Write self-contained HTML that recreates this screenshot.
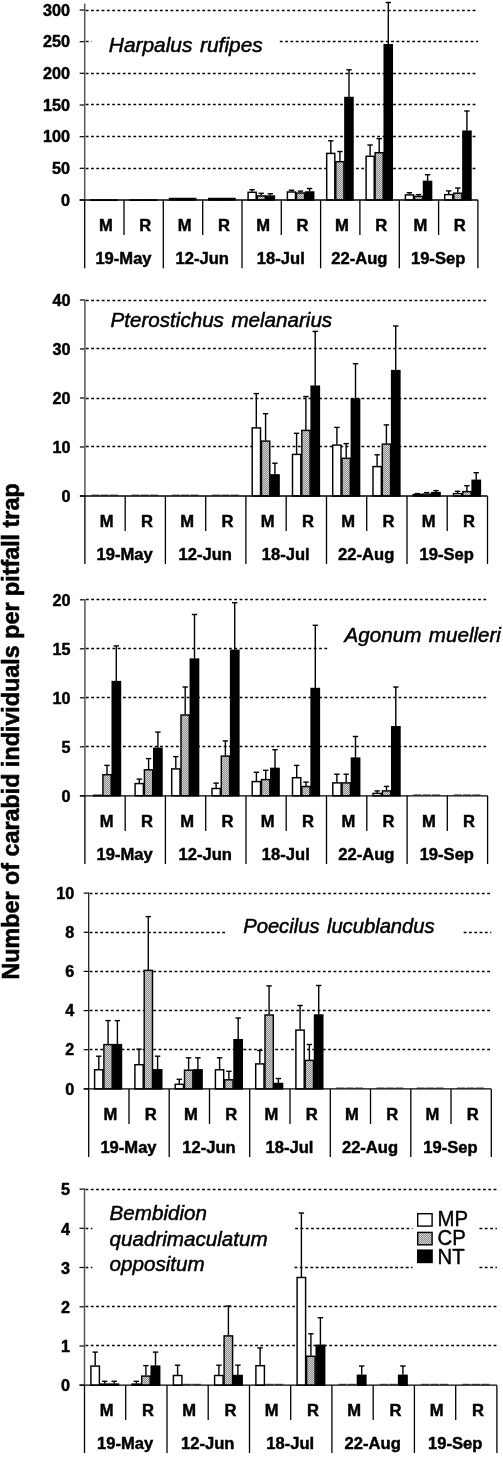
<!DOCTYPE html>
<html lang="en"><head><meta charset="utf-8"><title>Carabid individuals per pitfall trap</title>
<style>html,body{margin:0;padding:0;background:#fff}svg{display:block}svg text{font-family:"Liberation Sans",sans-serif}</style></head>
<body>
<svg width="503" height="1474" viewBox="0 0 503 1474">
<defs>
<pattern id="cp" width="2" height="2" patternUnits="userSpaceOnUse">
<rect width="2" height="2" fill="#8e8e8e"/>
<rect width="1" height="1" fill="#d2d2d2"/>
<rect x="1" y="1" width="1" height="1" fill="#d2d2d2"/>
</pattern>
</defs>
<rect width="503" height="1474" fill="#fff"/>
<text transform="translate(19.1,979.5) rotate(-90)" font-weight="bold" font-size="23.32" stroke="#000" stroke-width="0.55" fill="#000">Number of carabid individuals per pitfall trap</text>
<g>
<line x1="79.7" y1="200.0" x2="84.7" y2="200.0" stroke="#000" stroke-width="1.2"/>
<text x="69.9" y="205.7" text-anchor="end" stroke="#000" stroke-width="0.45" font-weight="bold" font-size="16.2" fill="#000">0</text>
<line x1="85.7" y1="168.5" x2="477.9" y2="168.5" stroke="#000" stroke-width="1.3" stroke-dasharray="2.8 2.5"/>
<line x1="79.7" y1="168.3" x2="84.7" y2="168.3" stroke="#000" stroke-width="1.2"/>
<text x="69.9" y="174.0" text-anchor="end" stroke="#000" stroke-width="0.45" font-weight="bold" font-size="16.2" fill="#000">50</text>
<line x1="85.7" y1="136.5" x2="477.9" y2="136.5" stroke="#000" stroke-width="1.3" stroke-dasharray="2.8 2.5"/>
<line x1="79.7" y1="136.7" x2="84.7" y2="136.7" stroke="#000" stroke-width="1.2"/>
<text x="69.9" y="142.4" text-anchor="end" stroke="#000" stroke-width="0.45" font-weight="bold" font-size="16.2" fill="#000">100</text>
<line x1="85.7" y1="104.5" x2="477.9" y2="104.5" stroke="#000" stroke-width="1.3" stroke-dasharray="2.8 2.5"/>
<line x1="79.7" y1="105.0" x2="84.7" y2="105.0" stroke="#000" stroke-width="1.2"/>
<text x="69.9" y="110.7" text-anchor="end" stroke="#000" stroke-width="0.45" font-weight="bold" font-size="16.2" fill="#000">150</text>
<line x1="85.7" y1="73.5" x2="477.9" y2="73.5" stroke="#000" stroke-width="1.3" stroke-dasharray="2.8 2.5"/>
<line x1="79.7" y1="73.3" x2="84.7" y2="73.3" stroke="#000" stroke-width="1.2"/>
<text x="69.9" y="79.0" text-anchor="end" stroke="#000" stroke-width="0.45" font-weight="bold" font-size="16.2" fill="#000">200</text>
<line x1="85.8" y1="41.5" x2="91.5" y2="41.5" stroke="#000" stroke-width="1.3" stroke-dasharray="2.8 2.5"/>
<line x1="279.8" y1="41.5" x2="477.9" y2="41.5" stroke="#000" stroke-width="1.3" stroke-dasharray="2.8 2.5"/>
<line x1="79.7" y1="41.7" x2="84.7" y2="41.7" stroke="#000" stroke-width="1.2"/>
<text x="69.9" y="47.4" text-anchor="end" stroke="#000" stroke-width="0.45" font-weight="bold" font-size="16.2" fill="#000">250</text>
<line x1="85.7" y1="10.5" x2="477.9" y2="10.5" stroke="#000" stroke-width="1.3" stroke-dasharray="2.8 2.5"/>
<line x1="79.7" y1="10.0" x2="84.7" y2="10.0" stroke="#000" stroke-width="1.2"/>
<text x="69.9" y="15.7" text-anchor="end" stroke="#000" stroke-width="0.45" font-weight="bold" font-size="16.2" fill="#000">300</text>
<rect x="90.8" y="200.0" width="8.1" height="0.3" fill="#fff" stroke="#000" stroke-width="1.45"/>
<rect x="99.9" y="200.0" width="8.1" height="0.3" fill="url(#cp)" stroke="#000" stroke-width="1.45"/>
<rect x="109.0" y="200.0" width="8.1" height="0.3" fill="#000" stroke="#000" stroke-width="1.45"/>
<rect x="130.1" y="200.0" width="8.1" height="0.3" fill="#fff" stroke="#000" stroke-width="1.45"/>
<rect x="139.2" y="200.0" width="8.1" height="0.3" fill="url(#cp)" stroke="#000" stroke-width="1.45"/>
<rect x="148.3" y="200.0" width="8.1" height="0.3" fill="#000" stroke="#000" stroke-width="1.45"/>
<rect x="169.5" y="198.5" width="8.1" height="1.5" fill="#fff" stroke="#000" stroke-width="1.45"/>
<rect x="178.5" y="198.5" width="8.1" height="1.5" fill="url(#cp)" stroke="#000" stroke-width="1.45"/>
<rect x="187.6" y="198.5" width="8.1" height="1.5" fill="#000" stroke="#000" stroke-width="1.45"/>
<rect x="208.8" y="198.5" width="8.1" height="1.5" fill="#fff" stroke="#000" stroke-width="1.45"/>
<rect x="217.9" y="198.5" width="8.1" height="1.5" fill="url(#cp)" stroke="#000" stroke-width="1.45"/>
<rect x="226.9" y="198.5" width="8.1" height="1.5" fill="#000" stroke="#000" stroke-width="1.45"/>
<line x1="252.1" y1="191.8" x2="252.1" y2="189.7" stroke="#000" stroke-width="1.4"/>
<line x1="249.4" y1="189.7" x2="254.8" y2="189.7" stroke="#000" stroke-width="1.4"/>
<rect x="248.1" y="192.3" width="8.1" height="7.7" fill="#fff" stroke="#000" stroke-width="1.45"/>
<line x1="261.2" y1="195.4" x2="261.2" y2="193.3" stroke="#000" stroke-width="1.4"/>
<line x1="258.5" y1="193.3" x2="263.9" y2="193.3" stroke="#000" stroke-width="1.4"/>
<rect x="257.2" y="195.9" width="8.1" height="4.1" fill="url(#cp)" stroke="#000" stroke-width="1.45"/>
<line x1="270.3" y1="195.6" x2="270.3" y2="193.8" stroke="#000" stroke-width="1.4"/>
<line x1="267.6" y1="193.8" x2="273.0" y2="193.8" stroke="#000" stroke-width="1.4"/>
<rect x="266.3" y="196.1" width="8.1" height="3.9" fill="#000" stroke="#000" stroke-width="1.45"/>
<line x1="291.5" y1="191.5" x2="291.5" y2="190.2" stroke="#000" stroke-width="1.4"/>
<line x1="288.8" y1="190.2" x2="294.2" y2="190.2" stroke="#000" stroke-width="1.4"/>
<rect x="287.4" y="192.0" width="8.1" height="8.0" fill="#fff" stroke="#000" stroke-width="1.45"/>
<line x1="300.5" y1="192.5" x2="300.5" y2="191.1" stroke="#000" stroke-width="1.4"/>
<line x1="297.8" y1="191.1" x2="303.2" y2="191.1" stroke="#000" stroke-width="1.4"/>
<rect x="296.5" y="193.0" width="8.1" height="7.0" fill="url(#cp)" stroke="#000" stroke-width="1.45"/>
<line x1="309.6" y1="191.5" x2="309.6" y2="188.5" stroke="#000" stroke-width="1.4"/>
<line x1="306.9" y1="188.5" x2="312.3" y2="188.5" stroke="#000" stroke-width="1.4"/>
<rect x="305.6" y="192.0" width="8.1" height="8.0" fill="#000" stroke="#000" stroke-width="1.45"/>
<line x1="330.8" y1="152.9" x2="330.8" y2="140.8" stroke="#000" stroke-width="1.4"/>
<line x1="328.1" y1="140.8" x2="333.5" y2="140.8" stroke="#000" stroke-width="1.4"/>
<rect x="326.7" y="153.4" width="8.1" height="46.6" fill="#fff" stroke="#000" stroke-width="1.45"/>
<line x1="339.9" y1="161.2" x2="339.9" y2="151.5" stroke="#000" stroke-width="1.4"/>
<line x1="337.2" y1="151.5" x2="342.6" y2="151.5" stroke="#000" stroke-width="1.4"/>
<rect x="335.8" y="161.7" width="8.1" height="38.3" fill="url(#cp)" stroke="#000" stroke-width="1.45"/>
<line x1="349.0" y1="97.0" x2="349.0" y2="69.8" stroke="#000" stroke-width="1.4"/>
<line x1="346.3" y1="69.8" x2="351.7" y2="69.8" stroke="#000" stroke-width="1.4"/>
<rect x="344.9" y="97.5" width="8.1" height="102.5" fill="#000" stroke="#000" stroke-width="1.45"/>
<line x1="370.1" y1="155.8" x2="370.1" y2="145.0" stroke="#000" stroke-width="1.4"/>
<line x1="367.4" y1="145.0" x2="372.8" y2="145.0" stroke="#000" stroke-width="1.4"/>
<rect x="366.1" y="156.3" width="8.1" height="43.7" fill="#fff" stroke="#000" stroke-width="1.45"/>
<line x1="379.2" y1="152.2" x2="379.2" y2="138.6" stroke="#000" stroke-width="1.4"/>
<line x1="376.5" y1="138.6" x2="381.9" y2="138.6" stroke="#000" stroke-width="1.4"/>
<rect x="375.1" y="152.7" width="8.1" height="47.3" fill="url(#cp)" stroke="#000" stroke-width="1.45"/>
<line x1="388.3" y1="44.2" x2="388.3" y2="2.5" stroke="#000" stroke-width="1.4"/>
<line x1="385.6" y1="2.5" x2="391.0" y2="2.5" stroke="#000" stroke-width="1.4"/>
<rect x="384.2" y="44.7" width="8.1" height="155.3" fill="#000" stroke="#000" stroke-width="1.45"/>
<line x1="409.4" y1="194.4" x2="409.4" y2="192.7" stroke="#000" stroke-width="1.4"/>
<line x1="406.7" y1="192.7" x2="412.1" y2="192.7" stroke="#000" stroke-width="1.4"/>
<rect x="405.4" y="194.9" width="8.1" height="5.1" fill="#fff" stroke="#000" stroke-width="1.45"/>
<line x1="418.5" y1="195.9" x2="418.5" y2="194.6" stroke="#000" stroke-width="1.4"/>
<line x1="415.8" y1="194.6" x2="421.2" y2="194.6" stroke="#000" stroke-width="1.4"/>
<rect x="414.5" y="196.4" width="8.1" height="3.6" fill="url(#cp)" stroke="#000" stroke-width="1.45"/>
<line x1="427.6" y1="180.9" x2="427.6" y2="174.7" stroke="#000" stroke-width="1.4"/>
<line x1="424.9" y1="174.7" x2="430.3" y2="174.7" stroke="#000" stroke-width="1.4"/>
<rect x="423.5" y="181.4" width="8.1" height="18.6" fill="#000" stroke="#000" stroke-width="1.45"/>
<line x1="448.7" y1="194.1" x2="448.7" y2="190.9" stroke="#000" stroke-width="1.4"/>
<line x1="446.0" y1="190.9" x2="451.4" y2="190.9" stroke="#000" stroke-width="1.4"/>
<rect x="444.7" y="194.6" width="8.1" height="5.4" fill="#fff" stroke="#000" stroke-width="1.45"/>
<line x1="457.8" y1="192.7" x2="457.8" y2="188.0" stroke="#000" stroke-width="1.4"/>
<line x1="455.1" y1="188.0" x2="460.5" y2="188.0" stroke="#000" stroke-width="1.4"/>
<rect x="453.8" y="193.2" width="8.1" height="6.8" fill="url(#cp)" stroke="#000" stroke-width="1.45"/>
<line x1="466.9" y1="130.7" x2="466.9" y2="111.0" stroke="#000" stroke-width="1.4"/>
<line x1="464.2" y1="111.0" x2="469.6" y2="111.0" stroke="#000" stroke-width="1.4"/>
<rect x="462.9" y="131.2" width="8.1" height="68.8" fill="#000" stroke="#000" stroke-width="1.45"/>
<line x1="84.7" y1="3.6" x2="84.7" y2="200.0" stroke="#555" stroke-width="1.5"/>
<line x1="84.7" y1="200.0" x2="84.7" y2="268.3" stroke="#000" stroke-width="1.3"/>
<line x1="79.7" y1="200.0" x2="477.9" y2="200.0" stroke="#000" stroke-width="1.3"/>
<line x1="124.0" y1="200.0" x2="124.0" y2="235.0" stroke="#000" stroke-width="1.3"/>
<line x1="163.3" y1="200.0" x2="163.3" y2="268.3" stroke="#000" stroke-width="1.3"/>
<line x1="202.7" y1="200.0" x2="202.7" y2="235.0" stroke="#000" stroke-width="1.3"/>
<line x1="242.0" y1="200.0" x2="242.0" y2="268.3" stroke="#000" stroke-width="1.3"/>
<line x1="281.3" y1="200.0" x2="281.3" y2="235.0" stroke="#000" stroke-width="1.3"/>
<line x1="320.6" y1="200.0" x2="320.6" y2="268.3" stroke="#000" stroke-width="1.3"/>
<line x1="359.9" y1="200.0" x2="359.9" y2="235.0" stroke="#000" stroke-width="1.3"/>
<line x1="399.3" y1="200.0" x2="399.3" y2="268.3" stroke="#000" stroke-width="1.3"/>
<line x1="438.6" y1="200.0" x2="438.6" y2="235.0" stroke="#000" stroke-width="1.3"/>
<line x1="477.9" y1="200.0" x2="477.9" y2="268.3" stroke="#000" stroke-width="1.3"/>
<text transform="translate(106.0,230.5) scale(1.03,1)" text-anchor="middle" stroke="#000" stroke-width="0.45" font-weight="bold" font-size="16.1" fill="#000">M</text>
<text transform="translate(145.3,230.5) scale(1.03,1)" text-anchor="middle" stroke="#000" stroke-width="0.45" font-weight="bold" font-size="16.1" fill="#000">R</text>
<text transform="translate(184.6,230.5) scale(1.03,1)" text-anchor="middle" stroke="#000" stroke-width="0.45" font-weight="bold" font-size="16.1" fill="#000">M</text>
<text transform="translate(223.9,230.5) scale(1.03,1)" text-anchor="middle" stroke="#000" stroke-width="0.45" font-weight="bold" font-size="16.1" fill="#000">R</text>
<text transform="translate(263.2,230.5) scale(1.03,1)" text-anchor="middle" stroke="#000" stroke-width="0.45" font-weight="bold" font-size="16.1" fill="#000">M</text>
<text transform="translate(302.6,230.5) scale(1.03,1)" text-anchor="middle" stroke="#000" stroke-width="0.45" font-weight="bold" font-size="16.1" fill="#000">R</text>
<text transform="translate(341.9,230.5) scale(1.03,1)" text-anchor="middle" stroke="#000" stroke-width="0.45" font-weight="bold" font-size="16.1" fill="#000">M</text>
<text transform="translate(381.2,230.5) scale(1.03,1)" text-anchor="middle" stroke="#000" stroke-width="0.45" font-weight="bold" font-size="16.1" fill="#000">R</text>
<text transform="translate(420.5,230.5) scale(1.03,1)" text-anchor="middle" stroke="#000" stroke-width="0.45" font-weight="bold" font-size="16.1" fill="#000">M</text>
<text transform="translate(459.8,230.5) scale(1.03,1)" text-anchor="middle" stroke="#000" stroke-width="0.45" font-weight="bold" font-size="16.1" fill="#000">R</text>
<text transform="translate(123.5,263.5) scale(1.03,1)" text-anchor="middle" stroke="#000" stroke-width="0.45" font-weight="bold" font-size="16.1" fill="#000">19-May</text>
<text transform="translate(202.2,263.5) scale(1.03,1)" text-anchor="middle" stroke="#000" stroke-width="0.45" font-weight="bold" font-size="16.1" fill="#000">12-Jun</text>
<text transform="translate(280.8,263.5) scale(1.03,1)" text-anchor="middle" stroke="#000" stroke-width="0.45" font-weight="bold" font-size="16.1" fill="#000">18-Jul</text>
<text transform="translate(359.4,263.5) scale(1.03,1)" text-anchor="middle" stroke="#000" stroke-width="0.45" font-weight="bold" font-size="16.1" fill="#000">22-Aug</text>
<text transform="translate(438.1,263.5) scale(1.03,1)" text-anchor="middle" stroke="#000" stroke-width="0.45" font-weight="bold" font-size="16.1" fill="#000">19-Sep</text>
<text x="108.8" y="52" font-style="italic" font-size="20.9" word-spacing="1.8" stroke="#000" stroke-width="0.5" fill="#000">Harpalus rufipes</text>
</g>
<g>
<line x1="79.9" y1="496.0" x2="84.9" y2="496.0" stroke="#000" stroke-width="1.2"/>
<text x="70.5" y="501.7" text-anchor="end" stroke="#000" stroke-width="0.45" font-weight="bold" font-size="16.2" fill="#000">0</text>
<line x1="85.9" y1="446.5" x2="487.5" y2="446.5" stroke="#000" stroke-width="1.3" stroke-dasharray="2.8 2.5"/>
<line x1="79.9" y1="447.0" x2="84.9" y2="447.0" stroke="#000" stroke-width="1.2"/>
<text x="70.5" y="452.7" text-anchor="end" stroke="#000" stroke-width="0.45" font-weight="bold" font-size="16.2" fill="#000">10</text>
<line x1="85.9" y1="398.5" x2="487.5" y2="398.5" stroke="#000" stroke-width="1.3" stroke-dasharray="2.8 2.5"/>
<line x1="79.9" y1="398.0" x2="84.9" y2="398.0" stroke="#000" stroke-width="1.2"/>
<text x="70.5" y="403.7" text-anchor="end" stroke="#000" stroke-width="0.45" font-weight="bold" font-size="16.2" fill="#000">20</text>
<line x1="85.9" y1="348.5" x2="487.5" y2="348.5" stroke="#000" stroke-width="1.3" stroke-dasharray="2.8 2.5"/>
<line x1="79.9" y1="349.0" x2="84.9" y2="349.0" stroke="#000" stroke-width="1.2"/>
<text x="70.5" y="354.7" text-anchor="end" stroke="#000" stroke-width="0.45" font-weight="bold" font-size="16.2" fill="#000">30</text>
<line x1="85.9" y1="300.5" x2="487.5" y2="300.5" stroke="#000" stroke-width="1.3" stroke-dasharray="2.8 2.5"/>
<line x1="79.9" y1="300.0" x2="84.9" y2="300.0" stroke="#000" stroke-width="1.2"/>
<text x="70.5" y="305.7" text-anchor="end" stroke="#000" stroke-width="0.45" font-weight="bold" font-size="16.2" fill="#000">40</text>
<line x1="91.3" y1="495.1" x2="99.4" y2="495.1" stroke="#000" stroke-width="1" stroke-opacity="0.75"/>
<line x1="100.6" y1="495.1" x2="108.7" y2="495.1" stroke="#000" stroke-width="1" stroke-opacity="0.75"/>
<line x1="109.9" y1="495.1" x2="118.0" y2="495.1" stroke="#000" stroke-width="1" stroke-opacity="0.75"/>
<line x1="131.5" y1="495.1" x2="139.6" y2="495.1" stroke="#000" stroke-width="1" stroke-opacity="0.75"/>
<line x1="140.8" y1="495.1" x2="148.9" y2="495.1" stroke="#000" stroke-width="1" stroke-opacity="0.75"/>
<line x1="150.1" y1="495.1" x2="158.2" y2="495.1" stroke="#000" stroke-width="1" stroke-opacity="0.75"/>
<line x1="171.8" y1="495.1" x2="179.9" y2="495.1" stroke="#000" stroke-width="1" stroke-opacity="0.75"/>
<line x1="181.1" y1="495.1" x2="189.2" y2="495.1" stroke="#000" stroke-width="1" stroke-opacity="0.75"/>
<line x1="190.4" y1="495.1" x2="198.5" y2="495.1" stroke="#000" stroke-width="1" stroke-opacity="0.75"/>
<line x1="212.0" y1="495.1" x2="220.1" y2="495.1" stroke="#000" stroke-width="1" stroke-opacity="0.75"/>
<line x1="221.3" y1="495.1" x2="229.4" y2="495.1" stroke="#000" stroke-width="1" stroke-opacity="0.75"/>
<line x1="230.6" y1="495.1" x2="238.7" y2="495.1" stroke="#000" stroke-width="1" stroke-opacity="0.75"/>
<line x1="256.3" y1="427.4" x2="256.3" y2="393.6" stroke="#000" stroke-width="1.4"/>
<line x1="253.6" y1="393.6" x2="259.0" y2="393.6" stroke="#000" stroke-width="1.4"/>
<rect x="252.2" y="427.9" width="8.3" height="68.1" fill="#fff" stroke="#000" stroke-width="1.45"/>
<line x1="265.6" y1="440.6" x2="265.6" y2="413.7" stroke="#000" stroke-width="1.4"/>
<line x1="262.9" y1="413.7" x2="268.3" y2="413.7" stroke="#000" stroke-width="1.4"/>
<rect x="261.5" y="441.1" width="8.3" height="54.9" fill="url(#cp)" stroke="#000" stroke-width="1.45"/>
<line x1="274.9" y1="474.4" x2="274.9" y2="463.2" stroke="#000" stroke-width="1.4"/>
<line x1="272.2" y1="463.2" x2="277.6" y2="463.2" stroke="#000" stroke-width="1.4"/>
<rect x="270.8" y="474.9" width="8.3" height="21.1" fill="#000" stroke="#000" stroke-width="1.45"/>
<line x1="296.6" y1="453.9" x2="296.6" y2="433.3" stroke="#000" stroke-width="1.4"/>
<line x1="293.9" y1="433.3" x2="299.3" y2="433.3" stroke="#000" stroke-width="1.4"/>
<rect x="292.5" y="454.4" width="8.3" height="41.6" fill="#fff" stroke="#000" stroke-width="1.45"/>
<line x1="305.9" y1="429.9" x2="305.9" y2="396.5" stroke="#000" stroke-width="1.4"/>
<line x1="303.2" y1="396.5" x2="308.6" y2="396.5" stroke="#000" stroke-width="1.4"/>
<rect x="301.8" y="430.4" width="8.3" height="65.7" fill="url(#cp)" stroke="#000" stroke-width="1.45"/>
<line x1="315.2" y1="385.8" x2="315.2" y2="331.4" stroke="#000" stroke-width="1.4"/>
<line x1="312.5" y1="331.4" x2="317.9" y2="331.4" stroke="#000" stroke-width="1.4"/>
<rect x="311.1" y="386.2" width="8.3" height="109.8" fill="#000" stroke="#000" stroke-width="1.45"/>
<line x1="336.9" y1="444.6" x2="336.9" y2="427.4" stroke="#000" stroke-width="1.4"/>
<line x1="334.2" y1="427.4" x2="339.6" y2="427.4" stroke="#000" stroke-width="1.4"/>
<rect x="332.7" y="445.1" width="8.3" height="51.0" fill="#fff" stroke="#000" stroke-width="1.45"/>
<line x1="346.2" y1="457.8" x2="346.2" y2="443.6" stroke="#000" stroke-width="1.4"/>
<line x1="343.5" y1="443.6" x2="348.9" y2="443.6" stroke="#000" stroke-width="1.4"/>
<rect x="342.0" y="458.3" width="8.3" height="37.7" fill="url(#cp)" stroke="#000" stroke-width="1.45"/>
<line x1="355.5" y1="398.5" x2="355.5" y2="363.7" stroke="#000" stroke-width="1.4"/>
<line x1="352.8" y1="363.7" x2="358.2" y2="363.7" stroke="#000" stroke-width="1.4"/>
<rect x="351.3" y="399.0" width="8.3" height="97.0" fill="#000" stroke="#000" stroke-width="1.45"/>
<line x1="377.1" y1="466.1" x2="377.1" y2="454.8" stroke="#000" stroke-width="1.4"/>
<line x1="374.4" y1="454.8" x2="379.8" y2="454.8" stroke="#000" stroke-width="1.4"/>
<rect x="373.0" y="466.6" width="8.3" height="29.4" fill="#fff" stroke="#000" stroke-width="1.45"/>
<line x1="386.4" y1="443.6" x2="386.4" y2="424.9" stroke="#000" stroke-width="1.4"/>
<line x1="383.7" y1="424.9" x2="389.1" y2="424.9" stroke="#000" stroke-width="1.4"/>
<rect x="382.3" y="444.1" width="8.3" height="51.9" fill="url(#cp)" stroke="#000" stroke-width="1.45"/>
<line x1="395.7" y1="370.1" x2="395.7" y2="326.0" stroke="#000" stroke-width="1.4"/>
<line x1="393.0" y1="326.0" x2="398.4" y2="326.0" stroke="#000" stroke-width="1.4"/>
<rect x="391.6" y="370.6" width="8.3" height="125.4" fill="#000" stroke="#000" stroke-width="1.45"/>
<line x1="417.4" y1="494.0" x2="417.4" y2="493.6" stroke="#000" stroke-width="1.4"/>
<line x1="414.7" y1="493.6" x2="420.1" y2="493.6" stroke="#000" stroke-width="1.4"/>
<rect x="413.2" y="494.5" width="8.3" height="1.5" fill="#fff" stroke="#000" stroke-width="1.45"/>
<line x1="426.7" y1="493.6" x2="426.7" y2="492.6" stroke="#000" stroke-width="1.4"/>
<line x1="424.0" y1="492.6" x2="429.4" y2="492.6" stroke="#000" stroke-width="1.4"/>
<rect x="422.5" y="494.1" width="8.3" height="2.0" fill="url(#cp)" stroke="#000" stroke-width="1.45"/>
<line x1="436.0" y1="492.1" x2="436.0" y2="490.6" stroke="#000" stroke-width="1.4"/>
<line x1="433.3" y1="490.6" x2="438.7" y2="490.6" stroke="#000" stroke-width="1.4"/>
<rect x="431.8" y="492.6" width="8.3" height="3.4" fill="#000" stroke="#000" stroke-width="1.45"/>
<line x1="457.6" y1="493.1" x2="457.6" y2="491.3" stroke="#000" stroke-width="1.4"/>
<line x1="454.9" y1="491.3" x2="460.3" y2="491.3" stroke="#000" stroke-width="1.4"/>
<rect x="453.5" y="493.6" width="8.3" height="2.4" fill="#fff" stroke="#000" stroke-width="1.45"/>
<line x1="466.9" y1="491.1" x2="466.9" y2="485.7" stroke="#000" stroke-width="1.4"/>
<line x1="464.2" y1="485.7" x2="469.6" y2="485.7" stroke="#000" stroke-width="1.4"/>
<rect x="462.8" y="491.6" width="8.3" height="4.4" fill="url(#cp)" stroke="#000" stroke-width="1.45"/>
<line x1="476.2" y1="479.8" x2="476.2" y2="472.7" stroke="#000" stroke-width="1.4"/>
<line x1="473.5" y1="472.7" x2="478.9" y2="472.7" stroke="#000" stroke-width="1.4"/>
<rect x="472.1" y="480.3" width="8.3" height="15.7" fill="#000" stroke="#000" stroke-width="1.45"/>
<line x1="84.9" y1="299.5" x2="84.9" y2="496.0" stroke="#555" stroke-width="1.5"/>
<line x1="84.9" y1="496.0" x2="84.9" y2="564.0" stroke="#000" stroke-width="1.3"/>
<line x1="79.9" y1="496.0" x2="487.5" y2="496.0" stroke="#000" stroke-width="1.3"/>
<line x1="125.2" y1="496.0" x2="125.2" y2="531.0" stroke="#000" stroke-width="1.3"/>
<line x1="165.4" y1="496.0" x2="165.4" y2="564.0" stroke="#000" stroke-width="1.3"/>
<line x1="205.7" y1="496.0" x2="205.7" y2="531.0" stroke="#000" stroke-width="1.3"/>
<line x1="245.9" y1="496.0" x2="245.9" y2="564.0" stroke="#000" stroke-width="1.3"/>
<line x1="286.2" y1="496.0" x2="286.2" y2="531.0" stroke="#000" stroke-width="1.3"/>
<line x1="326.5" y1="496.0" x2="326.5" y2="564.0" stroke="#000" stroke-width="1.3"/>
<line x1="366.7" y1="496.0" x2="366.7" y2="531.0" stroke="#000" stroke-width="1.3"/>
<line x1="407.0" y1="496.0" x2="407.0" y2="564.0" stroke="#000" stroke-width="1.3"/>
<line x1="447.2" y1="496.0" x2="447.2" y2="531.0" stroke="#000" stroke-width="1.3"/>
<line x1="487.5" y1="496.0" x2="487.5" y2="564.0" stroke="#000" stroke-width="1.3"/>
<text transform="translate(106.6,527.3) scale(1.03,1)" text-anchor="middle" stroke="#000" stroke-width="0.45" font-weight="bold" font-size="16.1" fill="#000">M</text>
<text transform="translate(146.9,527.3) scale(1.03,1)" text-anchor="middle" stroke="#000" stroke-width="0.45" font-weight="bold" font-size="16.1" fill="#000">R</text>
<text transform="translate(187.2,527.3) scale(1.03,1)" text-anchor="middle" stroke="#000" stroke-width="0.45" font-weight="bold" font-size="16.1" fill="#000">M</text>
<text transform="translate(227.4,527.3) scale(1.03,1)" text-anchor="middle" stroke="#000" stroke-width="0.45" font-weight="bold" font-size="16.1" fill="#000">R</text>
<text transform="translate(267.7,527.3) scale(1.03,1)" text-anchor="middle" stroke="#000" stroke-width="0.45" font-weight="bold" font-size="16.1" fill="#000">M</text>
<text transform="translate(307.9,527.3) scale(1.03,1)" text-anchor="middle" stroke="#000" stroke-width="0.45" font-weight="bold" font-size="16.1" fill="#000">R</text>
<text transform="translate(348.2,527.3) scale(1.03,1)" text-anchor="middle" stroke="#000" stroke-width="0.45" font-weight="bold" font-size="16.1" fill="#000">M</text>
<text transform="translate(388.5,527.3) scale(1.03,1)" text-anchor="middle" stroke="#000" stroke-width="0.45" font-weight="bold" font-size="16.1" fill="#000">R</text>
<text transform="translate(428.7,527.3) scale(1.03,1)" text-anchor="middle" stroke="#000" stroke-width="0.45" font-weight="bold" font-size="16.1" fill="#000">M</text>
<text transform="translate(469.0,527.3) scale(1.03,1)" text-anchor="middle" stroke="#000" stroke-width="0.45" font-weight="bold" font-size="16.1" fill="#000">R</text>
<text transform="translate(124.7,560.3) scale(1.03,1)" text-anchor="middle" stroke="#000" stroke-width="0.45" font-weight="bold" font-size="16.1" fill="#000">19-May</text>
<text transform="translate(205.2,560.3) scale(1.03,1)" text-anchor="middle" stroke="#000" stroke-width="0.45" font-weight="bold" font-size="16.1" fill="#000">12-Jun</text>
<text transform="translate(285.7,560.3) scale(1.03,1)" text-anchor="middle" stroke="#000" stroke-width="0.45" font-weight="bold" font-size="16.1" fill="#000">18-Jul</text>
<text transform="translate(366.2,560.3) scale(1.03,1)" text-anchor="middle" stroke="#000" stroke-width="0.45" font-weight="bold" font-size="16.1" fill="#000">22-Aug</text>
<text transform="translate(446.7,560.3) scale(1.03,1)" text-anchor="middle" stroke="#000" stroke-width="0.45" font-weight="bold" font-size="16.1" fill="#000">19-Sep</text>
<text x="110.6" y="327" font-style="italic" font-size="20.6" word-spacing="1.8" stroke="#000" stroke-width="0.5" fill="#000">Pterostichus melanarius</text>
</g>
<g>
<line x1="79.9" y1="795.8" x2="84.9" y2="795.8" stroke="#000" stroke-width="1.2"/>
<text x="70.5" y="801.5" text-anchor="end" stroke="#000" stroke-width="0.45" font-weight="bold" font-size="16.2" fill="#000">0</text>
<line x1="85.9" y1="746.5" x2="487.6" y2="746.5" stroke="#000" stroke-width="1.3" stroke-dasharray="2.8 2.5"/>
<line x1="79.9" y1="746.8" x2="84.9" y2="746.8" stroke="#000" stroke-width="1.2"/>
<text x="70.5" y="752.5" text-anchor="end" stroke="#000" stroke-width="0.45" font-weight="bold" font-size="16.2" fill="#000">5</text>
<line x1="85.9" y1="697.5" x2="487.6" y2="697.5" stroke="#000" stroke-width="1.3" stroke-dasharray="2.8 2.5"/>
<line x1="79.9" y1="697.8" x2="84.9" y2="697.8" stroke="#000" stroke-width="1.2"/>
<text x="70.5" y="703.5" text-anchor="end" stroke="#000" stroke-width="0.45" font-weight="bold" font-size="16.2" fill="#000">10</text>
<line x1="85.9" y1="648.5" x2="327.4" y2="648.5" stroke="#000" stroke-width="1.3" stroke-dasharray="2.8 2.5"/>
<line x1="79.9" y1="648.8" x2="84.9" y2="648.8" stroke="#000" stroke-width="1.2"/>
<text x="70.5" y="654.5" text-anchor="end" stroke="#000" stroke-width="0.45" font-weight="bold" font-size="16.2" fill="#000">15</text>
<line x1="85.9" y1="599.5" x2="487.6" y2="599.5" stroke="#000" stroke-width="1.3" stroke-dasharray="2.8 2.5"/>
<line x1="79.9" y1="599.8" x2="84.9" y2="599.8" stroke="#000" stroke-width="1.2"/>
<text x="70.5" y="605.5" text-anchor="end" stroke="#000" stroke-width="0.45" font-weight="bold" font-size="16.2" fill="#000">20</text>
<rect x="93.6" y="795.3" width="8.3" height="0.5" fill="#fff" stroke="#000" stroke-width="1.45"/>
<line x1="107.0" y1="774.2" x2="107.0" y2="765.4" stroke="#000" stroke-width="1.4"/>
<line x1="104.3" y1="765.4" x2="109.7" y2="765.4" stroke="#000" stroke-width="1.4"/>
<rect x="102.9" y="774.7" width="8.3" height="21.1" fill="url(#cp)" stroke="#000" stroke-width="1.45"/>
<line x1="116.3" y1="681.1" x2="116.3" y2="645.9" stroke="#000" stroke-width="1.4"/>
<line x1="113.6" y1="645.9" x2="119.0" y2="645.9" stroke="#000" stroke-width="1.4"/>
<rect x="112.2" y="681.6" width="8.3" height="114.2" fill="#000" stroke="#000" stroke-width="1.45"/>
<line x1="139.3" y1="783.1" x2="139.3" y2="779.1" stroke="#000" stroke-width="1.4"/>
<line x1="136.6" y1="779.1" x2="142.0" y2="779.1" stroke="#000" stroke-width="1.4"/>
<rect x="135.1" y="783.6" width="8.3" height="12.2" fill="#fff" stroke="#000" stroke-width="1.45"/>
<line x1="148.6" y1="769.3" x2="148.6" y2="758.6" stroke="#000" stroke-width="1.4"/>
<line x1="145.9" y1="758.6" x2="151.3" y2="758.6" stroke="#000" stroke-width="1.4"/>
<rect x="144.4" y="769.8" width="8.3" height="26.0" fill="url(#cp)" stroke="#000" stroke-width="1.45"/>
<line x1="157.9" y1="747.8" x2="157.9" y2="732.1" stroke="#000" stroke-width="1.4"/>
<line x1="155.2" y1="732.1" x2="160.6" y2="732.1" stroke="#000" stroke-width="1.4"/>
<rect x="153.7" y="748.3" width="8.3" height="47.5" fill="#000" stroke="#000" stroke-width="1.45"/>
<line x1="175.8" y1="768.4" x2="175.8" y2="756.6" stroke="#000" stroke-width="1.4"/>
<line x1="173.1" y1="756.6" x2="178.5" y2="756.6" stroke="#000" stroke-width="1.4"/>
<rect x="171.7" y="768.9" width="8.3" height="26.9" fill="#fff" stroke="#000" stroke-width="1.45"/>
<line x1="185.2" y1="714.5" x2="185.2" y2="687.0" stroke="#000" stroke-width="1.4"/>
<line x1="182.5" y1="687.0" x2="187.9" y2="687.0" stroke="#000" stroke-width="1.4"/>
<rect x="181.0" y="715.0" width="8.3" height="80.8" fill="url(#cp)" stroke="#000" stroke-width="1.45"/>
<line x1="194.5" y1="658.6" x2="194.5" y2="614.5" stroke="#000" stroke-width="1.4"/>
<line x1="191.8" y1="614.5" x2="197.2" y2="614.5" stroke="#000" stroke-width="1.4"/>
<rect x="190.3" y="659.1" width="8.3" height="136.7" fill="#000" stroke="#000" stroke-width="1.45"/>
<line x1="216.1" y1="788.0" x2="216.1" y2="783.1" stroke="#000" stroke-width="1.4"/>
<line x1="213.4" y1="783.1" x2="218.8" y2="783.1" stroke="#000" stroke-width="1.4"/>
<rect x="212.0" y="788.5" width="8.3" height="7.3" fill="#fff" stroke="#000" stroke-width="1.45"/>
<line x1="225.4" y1="755.6" x2="225.4" y2="740.9" stroke="#000" stroke-width="1.4"/>
<line x1="222.7" y1="740.9" x2="228.1" y2="740.9" stroke="#000" stroke-width="1.4"/>
<rect x="221.3" y="756.1" width="8.3" height="39.7" fill="url(#cp)" stroke="#000" stroke-width="1.45"/>
<line x1="234.7" y1="649.8" x2="234.7" y2="602.7" stroke="#000" stroke-width="1.4"/>
<line x1="232.0" y1="602.7" x2="237.4" y2="602.7" stroke="#000" stroke-width="1.4"/>
<rect x="230.6" y="650.3" width="8.3" height="145.5" fill="#000" stroke="#000" stroke-width="1.45"/>
<line x1="256.4" y1="781.1" x2="256.4" y2="772.3" stroke="#000" stroke-width="1.4"/>
<line x1="253.7" y1="772.3" x2="259.1" y2="772.3" stroke="#000" stroke-width="1.4"/>
<rect x="252.2" y="781.6" width="8.3" height="14.2" fill="#fff" stroke="#000" stroke-width="1.45"/>
<line x1="265.7" y1="779.1" x2="265.7" y2="770.3" stroke="#000" stroke-width="1.4"/>
<line x1="263.0" y1="770.3" x2="268.4" y2="770.3" stroke="#000" stroke-width="1.4"/>
<rect x="261.5" y="779.6" width="8.3" height="16.2" fill="url(#cp)" stroke="#000" stroke-width="1.45"/>
<line x1="275.0" y1="767.9" x2="275.0" y2="749.7" stroke="#000" stroke-width="1.4"/>
<line x1="272.3" y1="749.7" x2="277.7" y2="749.7" stroke="#000" stroke-width="1.4"/>
<rect x="270.8" y="768.4" width="8.3" height="27.4" fill="#000" stroke="#000" stroke-width="1.45"/>
<line x1="296.7" y1="777.2" x2="296.7" y2="765.4" stroke="#000" stroke-width="1.4"/>
<line x1="294.0" y1="765.4" x2="299.4" y2="765.4" stroke="#000" stroke-width="1.4"/>
<rect x="292.5" y="777.7" width="8.3" height="18.1" fill="#fff" stroke="#000" stroke-width="1.45"/>
<line x1="306.0" y1="786.0" x2="306.0" y2="782.1" stroke="#000" stroke-width="1.4"/>
<line x1="303.3" y1="782.1" x2="308.7" y2="782.1" stroke="#000" stroke-width="1.4"/>
<rect x="301.8" y="786.5" width="8.3" height="9.3" fill="url(#cp)" stroke="#000" stroke-width="1.45"/>
<line x1="315.3" y1="688.0" x2="315.3" y2="625.3" stroke="#000" stroke-width="1.4"/>
<line x1="312.6" y1="625.3" x2="318.0" y2="625.3" stroke="#000" stroke-width="1.4"/>
<rect x="311.1" y="688.5" width="8.3" height="107.3" fill="#000" stroke="#000" stroke-width="1.45"/>
<line x1="336.9" y1="782.4" x2="336.9" y2="774.2" stroke="#000" stroke-width="1.4"/>
<line x1="334.2" y1="774.2" x2="339.6" y2="774.2" stroke="#000" stroke-width="1.4"/>
<rect x="332.8" y="782.9" width="8.3" height="12.9" fill="#fff" stroke="#000" stroke-width="1.45"/>
<line x1="346.2" y1="782.4" x2="346.2" y2="774.2" stroke="#000" stroke-width="1.4"/>
<line x1="343.5" y1="774.2" x2="348.9" y2="774.2" stroke="#000" stroke-width="1.4"/>
<rect x="342.1" y="782.9" width="8.3" height="12.9" fill="url(#cp)" stroke="#000" stroke-width="1.45"/>
<line x1="355.5" y1="757.6" x2="355.5" y2="736.5" stroke="#000" stroke-width="1.4"/>
<line x1="352.8" y1="736.5" x2="358.2" y2="736.5" stroke="#000" stroke-width="1.4"/>
<rect x="351.4" y="758.1" width="8.3" height="37.7" fill="#000" stroke="#000" stroke-width="1.45"/>
<line x1="377.2" y1="792.9" x2="377.2" y2="790.9" stroke="#000" stroke-width="1.4"/>
<line x1="374.5" y1="790.9" x2="379.9" y2="790.9" stroke="#000" stroke-width="1.4"/>
<rect x="373.0" y="793.4" width="8.3" height="2.4" fill="#fff" stroke="#000" stroke-width="1.45"/>
<line x1="386.5" y1="790.4" x2="386.5" y2="786.4" stroke="#000" stroke-width="1.4"/>
<line x1="383.8" y1="786.4" x2="389.2" y2="786.4" stroke="#000" stroke-width="1.4"/>
<rect x="382.4" y="790.9" width="8.3" height="4.9" fill="url(#cp)" stroke="#000" stroke-width="1.45"/>
<line x1="395.8" y1="726.2" x2="395.8" y2="687.0" stroke="#000" stroke-width="1.4"/>
<line x1="393.1" y1="687.0" x2="398.5" y2="687.0" stroke="#000" stroke-width="1.4"/>
<rect x="391.7" y="726.7" width="8.3" height="69.1" fill="#000" stroke="#000" stroke-width="1.45"/>
<line x1="413.4" y1="794.9" x2="421.5" y2="794.9" stroke="#000" stroke-width="1" stroke-opacity="0.75"/>
<line x1="422.7" y1="794.9" x2="430.8" y2="794.9" stroke="#000" stroke-width="1" stroke-opacity="0.75"/>
<line x1="432.0" y1="794.9" x2="440.1" y2="794.9" stroke="#000" stroke-width="1" stroke-opacity="0.75"/>
<line x1="453.7" y1="794.9" x2="461.8" y2="794.9" stroke="#000" stroke-width="1" stroke-opacity="0.75"/>
<line x1="463.0" y1="794.9" x2="471.1" y2="794.9" stroke="#000" stroke-width="1" stroke-opacity="0.75"/>
<line x1="472.3" y1="794.9" x2="480.4" y2="794.9" stroke="#000" stroke-width="1" stroke-opacity="0.75"/>
<line x1="84.9" y1="599.5" x2="84.9" y2="795.8" stroke="#555" stroke-width="1.5"/>
<line x1="84.9" y1="795.8" x2="84.9" y2="864.0" stroke="#000" stroke-width="1.3"/>
<line x1="79.9" y1="795.8" x2="487.6" y2="795.8" stroke="#000" stroke-width="1.3"/>
<line x1="125.2" y1="795.8" x2="125.2" y2="831.0" stroke="#000" stroke-width="1.3"/>
<line x1="165.4" y1="795.8" x2="165.4" y2="864.0" stroke="#000" stroke-width="1.3"/>
<line x1="205.7" y1="795.8" x2="205.7" y2="831.0" stroke="#000" stroke-width="1.3"/>
<line x1="246.0" y1="795.8" x2="246.0" y2="864.0" stroke="#000" stroke-width="1.3"/>
<line x1="286.2" y1="795.8" x2="286.2" y2="831.0" stroke="#000" stroke-width="1.3"/>
<line x1="326.5" y1="795.8" x2="326.5" y2="864.0" stroke="#000" stroke-width="1.3"/>
<line x1="366.8" y1="795.8" x2="366.8" y2="831.0" stroke="#000" stroke-width="1.3"/>
<line x1="407.1" y1="795.8" x2="407.1" y2="864.0" stroke="#000" stroke-width="1.3"/>
<line x1="447.3" y1="795.8" x2="447.3" y2="831.0" stroke="#000" stroke-width="1.3"/>
<line x1="487.6" y1="795.8" x2="487.6" y2="864.0" stroke="#000" stroke-width="1.3"/>
<text transform="translate(106.6,827.1) scale(1.03,1)" text-anchor="middle" stroke="#000" stroke-width="0.45" font-weight="bold" font-size="16.1" fill="#000">M</text>
<text transform="translate(146.9,827.1) scale(1.03,1)" text-anchor="middle" stroke="#000" stroke-width="0.45" font-weight="bold" font-size="16.1" fill="#000">R</text>
<text transform="translate(187.2,827.1) scale(1.03,1)" text-anchor="middle" stroke="#000" stroke-width="0.45" font-weight="bold" font-size="16.1" fill="#000">M</text>
<text transform="translate(227.4,827.1) scale(1.03,1)" text-anchor="middle" stroke="#000" stroke-width="0.45" font-weight="bold" font-size="16.1" fill="#000">R</text>
<text transform="translate(267.7,827.1) scale(1.03,1)" text-anchor="middle" stroke="#000" stroke-width="0.45" font-weight="bold" font-size="16.1" fill="#000">M</text>
<text transform="translate(308.0,827.1) scale(1.03,1)" text-anchor="middle" stroke="#000" stroke-width="0.45" font-weight="bold" font-size="16.1" fill="#000">R</text>
<text transform="translate(348.3,827.1) scale(1.03,1)" text-anchor="middle" stroke="#000" stroke-width="0.45" font-weight="bold" font-size="16.1" fill="#000">M</text>
<text transform="translate(388.5,827.1) scale(1.03,1)" text-anchor="middle" stroke="#000" stroke-width="0.45" font-weight="bold" font-size="16.1" fill="#000">R</text>
<text transform="translate(428.8,827.1) scale(1.03,1)" text-anchor="middle" stroke="#000" stroke-width="0.45" font-weight="bold" font-size="16.1" fill="#000">M</text>
<text transform="translate(469.1,827.1) scale(1.03,1)" text-anchor="middle" stroke="#000" stroke-width="0.45" font-weight="bold" font-size="16.1" fill="#000">R</text>
<text transform="translate(124.7,860.1) scale(1.03,1)" text-anchor="middle" stroke="#000" stroke-width="0.45" font-weight="bold" font-size="16.1" fill="#000">19-May</text>
<text transform="translate(205.2,860.1) scale(1.03,1)" text-anchor="middle" stroke="#000" stroke-width="0.45" font-weight="bold" font-size="16.1" fill="#000">12-Jun</text>
<text transform="translate(285.8,860.1) scale(1.03,1)" text-anchor="middle" stroke="#000" stroke-width="0.45" font-weight="bold" font-size="16.1" fill="#000">18-Jul</text>
<text transform="translate(366.3,860.1) scale(1.03,1)" text-anchor="middle" stroke="#000" stroke-width="0.45" font-weight="bold" font-size="16.1" fill="#000">22-Aug</text>
<text transform="translate(446.8,860.1) scale(1.03,1)" text-anchor="middle" stroke="#000" stroke-width="0.45" font-weight="bold" font-size="16.1" fill="#000">19-Sep</text>
<text x="344.6" y="642.4" font-style="italic" font-size="20.6" word-spacing="1.8" stroke="#000" stroke-width="0.5" fill="#000">Agonum muelleri</text>
</g>
<g>
<line x1="83.7" y1="1088.9" x2="88.7" y2="1088.9" stroke="#000" stroke-width="1.2"/>
<text x="74.3" y="1094.6" text-anchor="end" stroke="#000" stroke-width="0.45" font-weight="bold" font-size="16.2" fill="#000">0</text>
<line x1="89.7" y1="1049.5" x2="491.3" y2="1049.5" stroke="#000" stroke-width="1.3" stroke-dasharray="2.8 2.5"/>
<line x1="83.7" y1="1049.7" x2="88.7" y2="1049.7" stroke="#000" stroke-width="1.2"/>
<text x="74.3" y="1055.4" text-anchor="end" stroke="#000" stroke-width="0.45" font-weight="bold" font-size="16.2" fill="#000">2</text>
<line x1="89.7" y1="1010.5" x2="491.3" y2="1010.5" stroke="#000" stroke-width="1.3" stroke-dasharray="2.8 2.5"/>
<line x1="83.7" y1="1010.6" x2="88.7" y2="1010.6" stroke="#000" stroke-width="1.2"/>
<text x="74.3" y="1016.3" text-anchor="end" stroke="#000" stroke-width="0.45" font-weight="bold" font-size="16.2" fill="#000">4</text>
<line x1="89.7" y1="971.5" x2="491.3" y2="971.5" stroke="#000" stroke-width="1.3" stroke-dasharray="2.8 2.5"/>
<line x1="83.7" y1="971.4" x2="88.7" y2="971.4" stroke="#000" stroke-width="1.2"/>
<text x="74.3" y="977.1" text-anchor="end" stroke="#000" stroke-width="0.45" font-weight="bold" font-size="16.2" fill="#000">6</text>
<line x1="89.7" y1="932.5" x2="227.3" y2="932.5" stroke="#000" stroke-width="1.3" stroke-dasharray="2.8 2.5"/>
<line x1="463.7" y1="932.5" x2="491.3" y2="932.5" stroke="#000" stroke-width="1.3" stroke-dasharray="2.8 2.5"/>
<line x1="83.7" y1="932.3" x2="88.7" y2="932.3" stroke="#000" stroke-width="1.2"/>
<text x="74.3" y="938.0" text-anchor="end" stroke="#000" stroke-width="0.45" font-weight="bold" font-size="16.2" fill="#000">8</text>
<line x1="89.7" y1="893.5" x2="491.3" y2="893.5" stroke="#000" stroke-width="1.3" stroke-dasharray="2.8 2.5"/>
<line x1="83.7" y1="893.1" x2="88.7" y2="893.1" stroke="#000" stroke-width="1.2"/>
<text x="74.3" y="898.8" text-anchor="end" stroke="#000" stroke-width="0.45" font-weight="bold" font-size="16.2" fill="#000">10</text>
<line x1="98.8" y1="1069.3" x2="98.8" y2="1056.2" stroke="#000" stroke-width="1.4"/>
<line x1="96.1" y1="1056.2" x2="101.5" y2="1056.2" stroke="#000" stroke-width="1.4"/>
<rect x="94.6" y="1069.8" width="8.3" height="19.1" fill="#fff" stroke="#000" stroke-width="1.45"/>
<line x1="108.1" y1="1044.1" x2="108.1" y2="1020.6" stroke="#000" stroke-width="1.4"/>
<line x1="105.4" y1="1020.6" x2="110.8" y2="1020.6" stroke="#000" stroke-width="1.4"/>
<rect x="103.9" y="1044.6" width="8.3" height="44.3" fill="url(#cp)" stroke="#000" stroke-width="1.45"/>
<line x1="117.4" y1="1044.1" x2="117.4" y2="1020.6" stroke="#000" stroke-width="1.4"/>
<line x1="114.7" y1="1020.6" x2="120.1" y2="1020.6" stroke="#000" stroke-width="1.4"/>
<rect x="113.2" y="1044.6" width="8.3" height="44.3" fill="#000" stroke="#000" stroke-width="1.45"/>
<line x1="139.0" y1="1064.2" x2="139.0" y2="1049.2" stroke="#000" stroke-width="1.4"/>
<line x1="136.3" y1="1049.2" x2="141.7" y2="1049.2" stroke="#000" stroke-width="1.4"/>
<rect x="134.9" y="1064.7" width="8.3" height="24.2" fill="#fff" stroke="#000" stroke-width="1.45"/>
<line x1="148.3" y1="969.9" x2="148.3" y2="916.6" stroke="#000" stroke-width="1.4"/>
<line x1="145.6" y1="916.6" x2="151.0" y2="916.6" stroke="#000" stroke-width="1.4"/>
<rect x="144.2" y="970.4" width="8.3" height="118.5" fill="url(#cp)" stroke="#000" stroke-width="1.45"/>
<line x1="157.6" y1="1069.3" x2="157.6" y2="1056.2" stroke="#000" stroke-width="1.4"/>
<line x1="154.9" y1="1056.2" x2="160.3" y2="1056.2" stroke="#000" stroke-width="1.4"/>
<rect x="153.5" y="1069.8" width="8.3" height="19.1" fill="#000" stroke="#000" stroke-width="1.45"/>
<line x1="179.3" y1="1083.8" x2="179.3" y2="1079.3" stroke="#000" stroke-width="1.4"/>
<line x1="176.6" y1="1079.3" x2="182.0" y2="1079.3" stroke="#000" stroke-width="1.4"/>
<rect x="175.2" y="1084.3" width="8.3" height="4.6" fill="#fff" stroke="#000" stroke-width="1.45"/>
<line x1="188.6" y1="1069.7" x2="188.6" y2="1057.8" stroke="#000" stroke-width="1.4"/>
<line x1="185.9" y1="1057.8" x2="191.3" y2="1057.8" stroke="#000" stroke-width="1.4"/>
<rect x="184.5" y="1070.2" width="8.3" height="18.7" fill="url(#cp)" stroke="#000" stroke-width="1.45"/>
<line x1="197.9" y1="1069.3" x2="197.9" y2="1057.8" stroke="#000" stroke-width="1.4"/>
<line x1="195.2" y1="1057.8" x2="200.6" y2="1057.8" stroke="#000" stroke-width="1.4"/>
<rect x="193.8" y="1069.8" width="8.3" height="19.1" fill="#000" stroke="#000" stroke-width="1.45"/>
<line x1="219.6" y1="1069.3" x2="219.6" y2="1057.8" stroke="#000" stroke-width="1.4"/>
<line x1="216.9" y1="1057.8" x2="222.3" y2="1057.8" stroke="#000" stroke-width="1.4"/>
<rect x="215.4" y="1069.8" width="8.3" height="19.1" fill="#fff" stroke="#000" stroke-width="1.45"/>
<line x1="228.9" y1="1079.3" x2="228.9" y2="1071.3" stroke="#000" stroke-width="1.4"/>
<line x1="226.2" y1="1071.3" x2="231.6" y2="1071.3" stroke="#000" stroke-width="1.4"/>
<rect x="224.7" y="1079.8" width="8.3" height="9.1" fill="url(#cp)" stroke="#000" stroke-width="1.45"/>
<line x1="238.2" y1="1039.2" x2="238.2" y2="1018.0" stroke="#000" stroke-width="1.4"/>
<line x1="235.5" y1="1018.0" x2="240.9" y2="1018.0" stroke="#000" stroke-width="1.4"/>
<rect x="234.0" y="1039.7" width="8.3" height="49.2" fill="#000" stroke="#000" stroke-width="1.45"/>
<line x1="259.8" y1="1063.4" x2="259.8" y2="1050.5" stroke="#000" stroke-width="1.4"/>
<line x1="257.1" y1="1050.5" x2="262.5" y2="1050.5" stroke="#000" stroke-width="1.4"/>
<rect x="255.7" y="1063.9" width="8.3" height="25.0" fill="#fff" stroke="#000" stroke-width="1.45"/>
<line x1="269.1" y1="1014.5" x2="269.1" y2="985.9" stroke="#000" stroke-width="1.4"/>
<line x1="266.4" y1="985.9" x2="271.8" y2="985.9" stroke="#000" stroke-width="1.4"/>
<rect x="265.0" y="1015.0" width="8.3" height="73.9" fill="url(#cp)" stroke="#000" stroke-width="1.45"/>
<line x1="278.4" y1="1083.0" x2="278.4" y2="1078.5" stroke="#000" stroke-width="1.4"/>
<line x1="275.7" y1="1078.5" x2="281.1" y2="1078.5" stroke="#000" stroke-width="1.4"/>
<rect x="274.3" y="1083.5" width="8.3" height="5.4" fill="#000" stroke="#000" stroke-width="1.45"/>
<line x1="300.1" y1="1029.6" x2="300.1" y2="1005.5" stroke="#000" stroke-width="1.4"/>
<line x1="297.4" y1="1005.5" x2="302.8" y2="1005.5" stroke="#000" stroke-width="1.4"/>
<rect x="295.9" y="1030.1" width="8.3" height="58.8" fill="#fff" stroke="#000" stroke-width="1.45"/>
<line x1="309.4" y1="1059.9" x2="309.4" y2="1044.5" stroke="#000" stroke-width="1.4"/>
<line x1="306.7" y1="1044.5" x2="312.1" y2="1044.5" stroke="#000" stroke-width="1.4"/>
<rect x="305.2" y="1060.4" width="8.3" height="28.5" fill="url(#cp)" stroke="#000" stroke-width="1.45"/>
<line x1="318.7" y1="1014.5" x2="318.7" y2="985.5" stroke="#000" stroke-width="1.4"/>
<line x1="316.0" y1="985.5" x2="321.4" y2="985.5" stroke="#000" stroke-width="1.4"/>
<rect x="314.5" y="1015.0" width="8.3" height="73.9" fill="#000" stroke="#000" stroke-width="1.45"/>
<line x1="336.3" y1="1088.0" x2="344.4" y2="1088.0" stroke="#000" stroke-width="1" stroke-opacity="0.75"/>
<line x1="345.6" y1="1088.0" x2="353.7" y2="1088.0" stroke="#000" stroke-width="1" stroke-opacity="0.75"/>
<line x1="354.9" y1="1088.0" x2="363.0" y2="1088.0" stroke="#000" stroke-width="1" stroke-opacity="0.75"/>
<line x1="376.6" y1="1088.0" x2="384.7" y2="1088.0" stroke="#000" stroke-width="1" stroke-opacity="0.75"/>
<line x1="385.9" y1="1088.0" x2="394.0" y2="1088.0" stroke="#000" stroke-width="1" stroke-opacity="0.75"/>
<line x1="395.2" y1="1088.0" x2="403.3" y2="1088.0" stroke="#000" stroke-width="1" stroke-opacity="0.75"/>
<line x1="416.8" y1="1088.0" x2="424.9" y2="1088.0" stroke="#000" stroke-width="1" stroke-opacity="0.75"/>
<line x1="426.1" y1="1088.0" x2="434.2" y2="1088.0" stroke="#000" stroke-width="1" stroke-opacity="0.75"/>
<line x1="435.4" y1="1088.0" x2="443.5" y2="1088.0" stroke="#000" stroke-width="1" stroke-opacity="0.75"/>
<line x1="457.1" y1="1088.0" x2="465.2" y2="1088.0" stroke="#000" stroke-width="1" stroke-opacity="0.75"/>
<line x1="466.4" y1="1088.0" x2="474.5" y2="1088.0" stroke="#000" stroke-width="1" stroke-opacity="0.75"/>
<line x1="475.7" y1="1088.0" x2="483.8" y2="1088.0" stroke="#000" stroke-width="1" stroke-opacity="0.75"/>
<line x1="88.7" y1="892.5" x2="88.7" y2="1088.9" stroke="#111" stroke-width="1.2"/>
<line x1="88.7" y1="1088.9" x2="88.7" y2="1157.0" stroke="#000" stroke-width="1.3"/>
<line x1="83.7" y1="1088.9" x2="491.3" y2="1088.9" stroke="#000" stroke-width="1.3"/>
<line x1="129.0" y1="1088.9" x2="129.0" y2="1124.0" stroke="#000" stroke-width="1.3"/>
<line x1="169.2" y1="1088.9" x2="169.2" y2="1157.0" stroke="#000" stroke-width="1.3"/>
<line x1="209.5" y1="1088.9" x2="209.5" y2="1124.0" stroke="#000" stroke-width="1.3"/>
<line x1="249.7" y1="1088.9" x2="249.7" y2="1157.0" stroke="#000" stroke-width="1.3"/>
<line x1="290.0" y1="1088.9" x2="290.0" y2="1124.0" stroke="#000" stroke-width="1.3"/>
<line x1="330.3" y1="1088.9" x2="330.3" y2="1157.0" stroke="#000" stroke-width="1.3"/>
<line x1="370.5" y1="1088.9" x2="370.5" y2="1124.0" stroke="#000" stroke-width="1.3"/>
<line x1="410.8" y1="1088.9" x2="410.8" y2="1157.0" stroke="#000" stroke-width="1.3"/>
<line x1="451.0" y1="1088.9" x2="451.0" y2="1124.0" stroke="#000" stroke-width="1.3"/>
<line x1="491.3" y1="1088.9" x2="491.3" y2="1157.0" stroke="#000" stroke-width="1.3"/>
<text transform="translate(110.4,1120.3) scale(1.03,1)" text-anchor="middle" stroke="#000" stroke-width="0.45" font-weight="bold" font-size="16.1" fill="#000">M</text>
<text transform="translate(150.7,1120.3) scale(1.03,1)" text-anchor="middle" stroke="#000" stroke-width="0.45" font-weight="bold" font-size="16.1" fill="#000">R</text>
<text transform="translate(191.0,1120.3) scale(1.03,1)" text-anchor="middle" stroke="#000" stroke-width="0.45" font-weight="bold" font-size="16.1" fill="#000">M</text>
<text transform="translate(231.2,1120.3) scale(1.03,1)" text-anchor="middle" stroke="#000" stroke-width="0.45" font-weight="bold" font-size="16.1" fill="#000">R</text>
<text transform="translate(271.5,1120.3) scale(1.03,1)" text-anchor="middle" stroke="#000" stroke-width="0.45" font-weight="bold" font-size="16.1" fill="#000">M</text>
<text transform="translate(311.7,1120.3) scale(1.03,1)" text-anchor="middle" stroke="#000" stroke-width="0.45" font-weight="bold" font-size="16.1" fill="#000">R</text>
<text transform="translate(352.0,1120.3) scale(1.03,1)" text-anchor="middle" stroke="#000" stroke-width="0.45" font-weight="bold" font-size="16.1" fill="#000">M</text>
<text transform="translate(392.3,1120.3) scale(1.03,1)" text-anchor="middle" stroke="#000" stroke-width="0.45" font-weight="bold" font-size="16.1" fill="#000">R</text>
<text transform="translate(432.5,1120.3) scale(1.03,1)" text-anchor="middle" stroke="#000" stroke-width="0.45" font-weight="bold" font-size="16.1" fill="#000">M</text>
<text transform="translate(472.8,1120.3) scale(1.03,1)" text-anchor="middle" stroke="#000" stroke-width="0.45" font-weight="bold" font-size="16.1" fill="#000">R</text>
<text transform="translate(128.5,1153.3) scale(1.03,1)" text-anchor="middle" stroke="#000" stroke-width="0.45" font-weight="bold" font-size="16.1" fill="#000">19-May</text>
<text transform="translate(209.0,1153.3) scale(1.03,1)" text-anchor="middle" stroke="#000" stroke-width="0.45" font-weight="bold" font-size="16.1" fill="#000">12-Jun</text>
<text transform="translate(289.5,1153.3) scale(1.03,1)" text-anchor="middle" stroke="#000" stroke-width="0.45" font-weight="bold" font-size="16.1" fill="#000">18-Jul</text>
<text transform="translate(370.0,1153.3) scale(1.03,1)" text-anchor="middle" stroke="#000" stroke-width="0.45" font-weight="bold" font-size="16.1" fill="#000">22-Aug</text>
<text transform="translate(450.5,1153.3) scale(1.03,1)" text-anchor="middle" stroke="#000" stroke-width="0.45" font-weight="bold" font-size="16.1" fill="#000">19-Sep</text>
<text x="243.2" y="933.4" font-style="italic" font-size="20.2" word-spacing="1.8" stroke="#000" stroke-width="0.5" fill="#000">Poecilus lucublandus</text>
</g>
<g>
<line x1="79.5" y1="1385.2" x2="84.5" y2="1385.2" stroke="#000" stroke-width="1.2"/>
<text x="70.1" y="1391.4" text-anchor="end" stroke="#000" stroke-width="0.45" font-weight="bold" font-size="16.2" fill="#000">0</text>
<line x1="85.5" y1="1345.5" x2="496.9" y2="1345.5" stroke="#000" stroke-width="1.3" stroke-dasharray="2.8 2.5"/>
<line x1="79.5" y1="1346.0" x2="84.5" y2="1346.0" stroke="#000" stroke-width="1.2"/>
<text x="70.1" y="1352.2" text-anchor="end" stroke="#000" stroke-width="0.45" font-weight="bold" font-size="16.2" fill="#000">1</text>
<line x1="85.5" y1="1306.5" x2="496.9" y2="1306.5" stroke="#000" stroke-width="1.3" stroke-dasharray="2.8 2.5"/>
<line x1="79.5" y1="1306.8" x2="84.5" y2="1306.8" stroke="#000" stroke-width="1.2"/>
<text x="70.1" y="1313.0" text-anchor="end" stroke="#000" stroke-width="0.45" font-weight="bold" font-size="16.2" fill="#000">2</text>
<line x1="85.5" y1="1267.5" x2="92.3" y2="1267.5" stroke="#000" stroke-width="1.3" stroke-dasharray="2.8 2.5"/>
<line x1="294.5" y1="1267.5" x2="412.5" y2="1267.5" stroke="#000" stroke-width="1.3" stroke-dasharray="2.8 2.5"/>
<line x1="479.5" y1="1267.5" x2="496.9" y2="1267.5" stroke="#000" stroke-width="1.3" stroke-dasharray="2.8 2.5"/>
<line x1="79.5" y1="1267.5" x2="84.5" y2="1267.5" stroke="#000" stroke-width="1.2"/>
<text x="70.1" y="1273.7" text-anchor="end" stroke="#000" stroke-width="0.45" font-weight="bold" font-size="16.2" fill="#000">3</text>
<line x1="85.5" y1="1228.5" x2="92.3" y2="1228.5" stroke="#000" stroke-width="1.3" stroke-dasharray="2.8 2.5"/>
<line x1="295.2" y1="1228.5" x2="412.5" y2="1228.5" stroke="#000" stroke-width="1.3" stroke-dasharray="2.8 2.5"/>
<line x1="479.5" y1="1228.5" x2="496.9" y2="1228.5" stroke="#000" stroke-width="1.3" stroke-dasharray="2.8 2.5"/>
<line x1="79.5" y1="1228.3" x2="84.5" y2="1228.3" stroke="#000" stroke-width="1.2"/>
<text x="70.1" y="1234.5" text-anchor="end" stroke="#000" stroke-width="0.45" font-weight="bold" font-size="16.2" fill="#000">4</text>
<line x1="85.5" y1="1189.5" x2="496.9" y2="1189.5" stroke="#000" stroke-width="1.3" stroke-dasharray="2.8 2.5"/>
<line x1="79.5" y1="1189.1" x2="84.5" y2="1189.1" stroke="#000" stroke-width="1.2"/>
<text x="70.1" y="1195.3" text-anchor="end" stroke="#000" stroke-width="0.45" font-weight="bold" font-size="16.2" fill="#000">5</text>
<line x1="95.2" y1="1365.6" x2="95.2" y2="1352.1" stroke="#000" stroke-width="1.4"/>
<line x1="92.5" y1="1352.1" x2="97.9" y2="1352.1" stroke="#000" stroke-width="1.4"/>
<rect x="90.9" y="1366.1" width="8.5" height="19.1" fill="#fff" stroke="#000" stroke-width="1.45"/>
<line x1="104.7" y1="1383.6" x2="104.7" y2="1381.3" stroke="#000" stroke-width="1.4"/>
<line x1="102.0" y1="1381.3" x2="107.4" y2="1381.3" stroke="#000" stroke-width="1.4"/>
<rect x="100.4" y="1384.1" width="8.5" height="1.1" fill="url(#cp)" stroke="#000" stroke-width="1.45"/>
<line x1="114.2" y1="1383.6" x2="114.2" y2="1381.3" stroke="#000" stroke-width="1.4"/>
<line x1="111.5" y1="1381.3" x2="116.9" y2="1381.3" stroke="#000" stroke-width="1.4"/>
<rect x="110.0" y="1384.1" width="8.5" height="1.1" fill="#000" stroke="#000" stroke-width="1.45"/>
<line x1="136.4" y1="1383.6" x2="136.4" y2="1381.3" stroke="#000" stroke-width="1.4"/>
<line x1="133.7" y1="1381.3" x2="139.1" y2="1381.3" stroke="#000" stroke-width="1.4"/>
<rect x="132.1" y="1384.1" width="8.5" height="1.1" fill="#fff" stroke="#000" stroke-width="1.45"/>
<line x1="145.9" y1="1375.6" x2="145.9" y2="1365.6" stroke="#000" stroke-width="1.4"/>
<line x1="143.2" y1="1365.6" x2="148.6" y2="1365.6" stroke="#000" stroke-width="1.4"/>
<rect x="141.7" y="1376.1" width="8.5" height="9.1" fill="url(#cp)" stroke="#000" stroke-width="1.45"/>
<line x1="155.5" y1="1365.6" x2="155.5" y2="1352.1" stroke="#000" stroke-width="1.4"/>
<line x1="152.8" y1="1352.1" x2="158.2" y2="1352.1" stroke="#000" stroke-width="1.4"/>
<rect x="151.2" y="1366.1" width="8.5" height="19.1" fill="#000" stroke="#000" stroke-width="1.45"/>
<line x1="177.6" y1="1375.0" x2="177.6" y2="1365.2" stroke="#000" stroke-width="1.4"/>
<line x1="174.9" y1="1365.2" x2="180.3" y2="1365.2" stroke="#000" stroke-width="1.4"/>
<rect x="173.4" y="1375.5" width="8.5" height="9.7" fill="#fff" stroke="#000" stroke-width="1.45"/>
<line x1="183.0" y1="1384.3" x2="191.3" y2="1384.3" stroke="#000" stroke-width="1" stroke-opacity="0.75"/>
<line x1="192.5" y1="1384.3" x2="200.9" y2="1384.3" stroke="#000" stroke-width="1" stroke-opacity="0.75"/>
<line x1="218.9" y1="1375.0" x2="218.9" y2="1365.2" stroke="#000" stroke-width="1.4"/>
<line x1="216.2" y1="1365.2" x2="221.6" y2="1365.2" stroke="#000" stroke-width="1.4"/>
<rect x="214.6" y="1375.5" width="8.5" height="9.7" fill="#fff" stroke="#000" stroke-width="1.45"/>
<line x1="228.4" y1="1335.4" x2="228.4" y2="1306.0" stroke="#000" stroke-width="1.4"/>
<line x1="225.7" y1="1306.0" x2="231.1" y2="1306.0" stroke="#000" stroke-width="1.4"/>
<rect x="224.1" y="1335.9" width="8.5" height="49.3" fill="url(#cp)" stroke="#000" stroke-width="1.45"/>
<line x1="237.9" y1="1375.0" x2="237.9" y2="1365.2" stroke="#000" stroke-width="1.4"/>
<line x1="235.2" y1="1365.2" x2="240.6" y2="1365.2" stroke="#000" stroke-width="1.4"/>
<rect x="233.7" y="1375.5" width="8.5" height="9.7" fill="#000" stroke="#000" stroke-width="1.45"/>
<line x1="260.1" y1="1365.2" x2="260.1" y2="1347.9" stroke="#000" stroke-width="1.4"/>
<line x1="257.4" y1="1347.9" x2="262.8" y2="1347.9" stroke="#000" stroke-width="1.4"/>
<rect x="255.9" y="1365.7" width="8.5" height="19.5" fill="#fff" stroke="#000" stroke-width="1.45"/>
<line x1="265.5" y1="1384.3" x2="273.8" y2="1384.3" stroke="#000" stroke-width="1" stroke-opacity="0.75"/>
<line x1="275.0" y1="1384.3" x2="283.3" y2="1384.3" stroke="#000" stroke-width="1" stroke-opacity="0.75"/>
<line x1="301.4" y1="1277.0" x2="301.4" y2="1213.0" stroke="#000" stroke-width="1.4"/>
<line x1="298.7" y1="1213.0" x2="304.1" y2="1213.0" stroke="#000" stroke-width="1.4"/>
<rect x="297.1" y="1277.5" width="8.5" height="107.7" fill="#fff" stroke="#000" stroke-width="1.45"/>
<line x1="310.9" y1="1355.8" x2="310.9" y2="1333.8" stroke="#000" stroke-width="1.4"/>
<line x1="308.2" y1="1333.8" x2="313.6" y2="1333.8" stroke="#000" stroke-width="1.4"/>
<rect x="306.6" y="1356.3" width="8.5" height="28.9" fill="url(#cp)" stroke="#000" stroke-width="1.45"/>
<line x1="320.4" y1="1344.8" x2="320.4" y2="1317.7" stroke="#000" stroke-width="1.4"/>
<line x1="317.7" y1="1317.7" x2="323.1" y2="1317.7" stroke="#000" stroke-width="1.4"/>
<rect x="316.2" y="1345.3" width="8.5" height="39.9" fill="#000" stroke="#000" stroke-width="1.45"/>
<line x1="338.4" y1="1384.3" x2="346.8" y2="1384.3" stroke="#000" stroke-width="1" stroke-opacity="0.75"/>
<line x1="348.0" y1="1384.3" x2="356.3" y2="1384.3" stroke="#000" stroke-width="1" stroke-opacity="0.75"/>
<line x1="361.7" y1="1374.8" x2="361.7" y2="1366.0" stroke="#000" stroke-width="1.4"/>
<line x1="359.0" y1="1366.0" x2="364.4" y2="1366.0" stroke="#000" stroke-width="1.4"/>
<rect x="357.4" y="1375.3" width="8.5" height="9.9" fill="#000" stroke="#000" stroke-width="1.45"/>
<line x1="379.7" y1="1384.3" x2="388.0" y2="1384.3" stroke="#000" stroke-width="1" stroke-opacity="0.75"/>
<line x1="389.2" y1="1384.3" x2="397.5" y2="1384.3" stroke="#000" stroke-width="1" stroke-opacity="0.75"/>
<line x1="402.9" y1="1374.8" x2="402.9" y2="1366.0" stroke="#000" stroke-width="1.4"/>
<line x1="400.2" y1="1366.0" x2="405.6" y2="1366.0" stroke="#000" stroke-width="1.4"/>
<rect x="398.6" y="1375.3" width="8.5" height="9.9" fill="#000" stroke="#000" stroke-width="1.45"/>
<line x1="420.9" y1="1384.3" x2="429.2" y2="1384.3" stroke="#000" stroke-width="1" stroke-opacity="0.75"/>
<line x1="430.4" y1="1384.3" x2="438.8" y2="1384.3" stroke="#000" stroke-width="1" stroke-opacity="0.75"/>
<line x1="440.0" y1="1384.3" x2="448.3" y2="1384.3" stroke="#000" stroke-width="1" stroke-opacity="0.75"/>
<line x1="462.2" y1="1384.3" x2="470.5" y2="1384.3" stroke="#000" stroke-width="1" stroke-opacity="0.75"/>
<line x1="471.7" y1="1384.3" x2="480.0" y2="1384.3" stroke="#000" stroke-width="1" stroke-opacity="0.75"/>
<line x1="481.2" y1="1384.3" x2="489.5" y2="1384.3" stroke="#000" stroke-width="1" stroke-opacity="0.75"/>
<line x1="84.5" y1="1188.3" x2="84.5" y2="1385.2" stroke="#555" stroke-width="1.5"/>
<line x1="84.5" y1="1385.2" x2="84.5" y2="1453.0" stroke="#000" stroke-width="1.3"/>
<line x1="79.5" y1="1385.2" x2="496.9" y2="1385.2" stroke="#000" stroke-width="1.3"/>
<line x1="125.7" y1="1385.2" x2="125.7" y2="1420.0" stroke="#000" stroke-width="1.3"/>
<line x1="167.0" y1="1385.2" x2="167.0" y2="1453.0" stroke="#000" stroke-width="1.3"/>
<line x1="208.2" y1="1385.2" x2="208.2" y2="1420.0" stroke="#000" stroke-width="1.3"/>
<line x1="249.5" y1="1385.2" x2="249.5" y2="1453.0" stroke="#000" stroke-width="1.3"/>
<line x1="290.7" y1="1385.2" x2="290.7" y2="1420.0" stroke="#000" stroke-width="1.3"/>
<line x1="331.9" y1="1385.2" x2="331.9" y2="1453.0" stroke="#000" stroke-width="1.3"/>
<line x1="373.2" y1="1385.2" x2="373.2" y2="1420.0" stroke="#000" stroke-width="1.3"/>
<line x1="414.4" y1="1385.2" x2="414.4" y2="1453.0" stroke="#000" stroke-width="1.3"/>
<line x1="455.7" y1="1385.2" x2="455.7" y2="1420.0" stroke="#000" stroke-width="1.3"/>
<line x1="496.9" y1="1385.2" x2="496.9" y2="1453.0" stroke="#000" stroke-width="1.3"/>
<text transform="translate(106.7,1415.7) scale(1.03,1)" text-anchor="middle" stroke="#000" stroke-width="0.45" font-weight="bold" font-size="16.1" fill="#000">M</text>
<text transform="translate(148.0,1415.7) scale(1.03,1)" text-anchor="middle" stroke="#000" stroke-width="0.45" font-weight="bold" font-size="16.1" fill="#000">R</text>
<text transform="translate(189.2,1415.7) scale(1.03,1)" text-anchor="middle" stroke="#000" stroke-width="0.45" font-weight="bold" font-size="16.1" fill="#000">M</text>
<text transform="translate(230.4,1415.7) scale(1.03,1)" text-anchor="middle" stroke="#000" stroke-width="0.45" font-weight="bold" font-size="16.1" fill="#000">R</text>
<text transform="translate(271.7,1415.7) scale(1.03,1)" text-anchor="middle" stroke="#000" stroke-width="0.45" font-weight="bold" font-size="16.1" fill="#000">M</text>
<text transform="translate(312.9,1415.7) scale(1.03,1)" text-anchor="middle" stroke="#000" stroke-width="0.45" font-weight="bold" font-size="16.1" fill="#000">R</text>
<text transform="translate(354.2,1415.7) scale(1.03,1)" text-anchor="middle" stroke="#000" stroke-width="0.45" font-weight="bold" font-size="16.1" fill="#000">M</text>
<text transform="translate(395.4,1415.7) scale(1.03,1)" text-anchor="middle" stroke="#000" stroke-width="0.45" font-weight="bold" font-size="16.1" fill="#000">R</text>
<text transform="translate(436.6,1415.7) scale(1.03,1)" text-anchor="middle" stroke="#000" stroke-width="0.45" font-weight="bold" font-size="16.1" fill="#000">M</text>
<text transform="translate(477.9,1415.7) scale(1.03,1)" text-anchor="middle" stroke="#000" stroke-width="0.45" font-weight="bold" font-size="16.1" fill="#000">R</text>
<text transform="translate(125.2,1448.7) scale(1.03,1)" text-anchor="middle" stroke="#000" stroke-width="0.45" font-weight="bold" font-size="16.1" fill="#000">19-May</text>
<text transform="translate(207.7,1448.7) scale(1.03,1)" text-anchor="middle" stroke="#000" stroke-width="0.45" font-weight="bold" font-size="16.1" fill="#000">12-Jun</text>
<text transform="translate(290.2,1448.7) scale(1.03,1)" text-anchor="middle" stroke="#000" stroke-width="0.45" font-weight="bold" font-size="16.1" fill="#000">18-Jul</text>
<text transform="translate(372.7,1448.7) scale(1.03,1)" text-anchor="middle" stroke="#000" stroke-width="0.45" font-weight="bold" font-size="16.1" fill="#000">22-Aug</text>
<text transform="translate(455.2,1448.7) scale(1.03,1)" text-anchor="middle" stroke="#000" stroke-width="0.45" font-weight="bold" font-size="16.1" fill="#000">19-Sep</text>
<text x="109.6" y="1220" font-style="italic" font-size="20.6" word-spacing="1.8" stroke="#000" stroke-width="0.5" fill="#000">Bembidion</text>
<text x="109.6" y="1245.6" font-style="italic" font-size="20.6" word-spacing="1.8" stroke="#000" stroke-width="0.5" fill="#000">quadrimaculatum</text>
<text x="109.6" y="1270.5" font-style="italic" font-size="20.6" word-spacing="1.8" stroke="#000" stroke-width="0.5" fill="#000">oppositum</text>
</g>
<rect x="417.7" y="1213.7" width="14.4" height="12.4" fill="#fff" stroke="#000" stroke-width="1.4"/>
<text transform="translate(437.6,1225.7) scale(0.96,1)" font-size="21.2" stroke="#000" stroke-width="0.4" fill="#000">MP</text>
<rect x="417.7" y="1232.4" width="14.4" height="12.4" fill="url(#cp)" stroke="#000" stroke-width="1.4"/>
<text transform="translate(437.6,1244.8) scale(0.96,1)" font-size="21.2" stroke="#000" stroke-width="0.4" fill="#000">CP</text>
<rect x="417.7" y="1250.1" width="14.4" height="12.4" fill="#000" stroke="#000" stroke-width="1.4"/>
<text transform="translate(437.6,1263.6) scale(0.96,1)" font-size="21.2" stroke="#000" stroke-width="0.4" fill="#000">NT</text>
</svg>
</body></html>
